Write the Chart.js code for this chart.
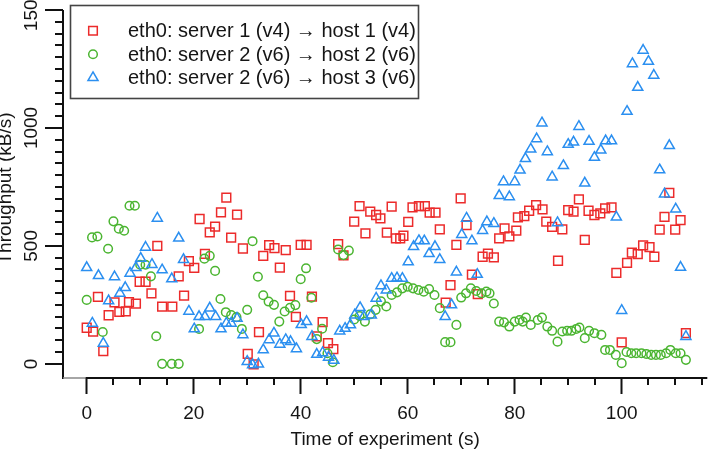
<!DOCTYPE html>
<html>
<head>
<meta charset="utf-8">
<script src="https://cdn.jsdelivr.net/npm/chart.js@4.4.1/dist/chart.umd.min.js"></script>
<style>
html,body{margin:0;padding:0;background:#fff;}
#wrap{width:715px;height:455px;position:relative;}
</style>
</head>
<body>
<div id="wrap"><canvas id="c" width="715" height="455"></canvas></div>
<script>
// ---------- data ----------
const seriesLabels = [
  'eth0: server 1 (v4) \u2192 host 1 (v4)',
  'eth0: server 2 (v6) \u2192 host 2 (v6)',
  'eth0: server 2 (v6) \u2192 host 3 (v6)'
];
const xTickValues = [0, 20, 40, 60, 80, 100];
const yTickValues = [0, 500, 1000, 1500];
const xTitle = 'Time of experiment (s)';
const yTitle = 'Throughput (kB/s)';

const redX = [0,1.2,2.1,3.1,4.1,5.2,6.1,7.3,7.9,9.2,
  9.9,11,12.1,13.2,14.1,16,17.2,18.2,19.1,20.1,
  21.1,22.1,23,24,25.1,26.1,27,28.1,29.2,30.1,
  31.2,32.2,33,34.1,35.1,36.1,37.2,38,39.1,40,
  41.1,42.1,43,44.1,45.1,46.1,47,48,50,51,
  52.1,53,54.1,54.9,56.1,57,57.8,58.6,59.2,60.1,
  60.9,62.1,63.2,64.1,65.2,66,67.1,68,69.1,69.9,
  71,72,73.1,74,75,76.1,77.1,78.1,79,80.3,
  80.6,81.8,82.7,84,85.2,85.9,87,88.1,88.9,90,
  91,92,93.1,93.8,94.9,96,96.9,98.1,99,100,
  101,101.9,103,104,105.2,106.1,107.1,108,108.9,110,
  111,112];
const redY = [153,137,284,54,206,261,220,222,262,255,
  348,348,299,500,243,243,371,289,435,407,
  614,466,557,582,642,705,535,633,489,42,
  -2,134,458,503,491,408,482,288,199,504,
  504,285,116,177,88,62,508,460,603,669,
  553,645,631,617,556,666,532,532,543,602,
  663,669,669,641,641,570,260,334,504,701,
  588,378,296,454,467,451,532,574,540,565,
  621,626,649,673,655,603,581,437,570,652,
  645,697,526,649,631,638,659,663,386,91,
  428,471,465,502,495,454,569,623,725,569,
  609,130];

const greenX = [0,1,2,3,4,5,6,7,8,9,
  10,11,12,13,14.1,15.9,17.2,21,22,23,
  24,25,26,27,28,29,30,31,32,33,
  34,35,36,37,38,39,40,41,42,43,
  44,45,46,47,48,49,50,51,52,53,
  54,55,56,57,58,59,60,61,62,63,
  64,65,66,67,68,69.1,70,70.9,71.8,72.8,
  73.8,74.7,75.3,76.1,77.1,78,79,80,80.9,81.5,
  82.1,83,84.3,85.1,86.1,87,88,88.9,89.8,90.6,
  91.5,92.1,93.1,93.9,94.9,96.2,96.9,97.8,98.9,100,
  100.9,101.8,102.7,103.7,104.6,105.5,106.4,107.3,108.3,109.1,
  110.1,111,112];
const greenY = [271,536,540,135,488,604,573,564,670,670,
  420,420,371,117,0,0,0,148,446,458,
  394,275,219,207,198,148,229,520,369,291,
  264,250,179,222,238,249,359,405,280,105,
  149,45,7,485,461,480,188,203,179,210,
  229,265,243,292,303,320,327,320,313,306,
  317,292,236,92,92,165,281,299,320,309,
  299,306,299,256,179,176,158,179,186,179,
  196,165,186,196,158,140,94,137,140,140,
  148,154,109,140,130,123,59,59,38,3,
  50,45,45,45,42,38,38,38,45,59,
  45,45,17];

const blueX = [0,1.05,2.2,3.1,4.1,5.2,6.2,7.2,8.1,9.2,
  10.1,11,12.2,13.2,14.1,15.9,17.2,18.1,19.1,20.1,
  21,22.1,23,24.1,25.1,26.1,27,28.1,29.2,30,
  31,32.1,33,34.1,35,36.1,37.2,38.1,39.2,40.1,
  41.1,42.1,43,44.1,45.2,46.2,47.3,48.3,49.3,50.1,
  51.1,51.8,53.2,54.1,55,56,57,58,59,60.1,
  61.1,62.1,63.1,64,65.1,66,67,68.2,69.1,70.1,
  71,72,73,74,74.8,76.1,77.1,77.9,79,80,
  81,82,83,84.1,85.1,86.1,87,88,89.1,90,
  91,92,93.1,93.9,94.9,96.1,97,98.1,99,100,
  101,102,103,104,105,106,107.1,108,108.9,110.1,
  111,112];
const blueY = [408,172,374,87,267,369,299,323,384,408,
  447,494,421,617,398,360,533,442,223,148,
  200,200,236,200,148,172,172,193,123,10,
  -4,-1,59,102,130,83,102,94,64,166,
  179,116,40,47,28,15,139,150,165,207,
  238,200,207,278,331,313,362,364,362,432,
  497,522,521,467,497,442,200,250,389,548,
  617,521,379,565,602,595,713,772,708,772,
  821,870,910,954,1021,899,792,598,840,930,
  940,1006,766,943,875,906,945,945,622,226,
  1070,1272,1172,1329,1282,1223,822,720,925,656,
  409,116];

// ---------- styles ----------
const FONT = '"Liberation Sans", Arial, Helvetica, sans-serif';
const TEXT = '#151515';
const RED = '#ec2b2b', GREEN = '#4bb531', BLUE = '#2b8ff0';

function pts(xs, ys) { return xs.map((x, i) => ({ x: x, y: ys[i] })); }

const styles = [
  { color: RED, pointStyle: 'rect', radius: 6.2 },
  { color: GREEN, pointStyle: 'circle', radius: 4.3 },
  { color: BLUE, pointStyle: 'triangle', radius: 5.8 }
];

const igorPlugin = {
  id: 'igor',
  afterDraw(chart) {
    const ctx = chart.ctx;
    const xs = chart.scales.x, ys = chart.scales.y;
    const ca = chart.chartArea;
    ctx.save();
    ctx.strokeStyle = '#111';
    ctx.fillStyle = TEXT;
    // left axis line
    ctx.lineWidth = 2;
    ctx.beginPath();
    ctx.moveTo(ca.left, ca.top);
    ctx.lineTo(ca.left, ca.bottom + 1);
    ctx.stroke();
    // bottom axis line (thin grey part before 0, then black)
    const x0 = xs.getPixelForValue(0);
    ctx.strokeStyle = '#888';
    ctx.lineWidth = 1.5;
    ctx.beginPath();
    ctx.moveTo(ca.left, ca.bottom);
    ctx.lineTo(x0, ca.bottom);
    ctx.stroke();
    ctx.strokeStyle = '#111';
    ctx.lineWidth = 2;
    ctx.beginPath();
    ctx.moveTo(x0 - 1, ca.bottom);
    ctx.lineTo(ca.right, ca.bottom);
    ctx.stroke();
    // y ticks
    for (let v = 0; v <= 1500; v += 50) {
      const py = Math.round(ys.getPixelForValue(v));
      const len = (v % 500 === 0) ? 18 : 8;
      ctx.beginPath();
      ctx.moveTo(ca.left, py);
      ctx.lineTo(ca.left - len, py);
      ctx.stroke();
    }
    // x minor ticks
    for (let v = 5; v <= 115; v += 5) {
      if (v % 20 === 0) continue;
      const px = Math.round(xs.getPixelForValue(v));
      if (px > ca.right) continue;
      ctx.beginPath();
      ctx.moveTo(px, ca.bottom);
      ctx.lineTo(px, ca.bottom + 7);
      ctx.stroke();
    }
    // y tick labels (rotated)
    ctx.font = '19px ' + FONT;
    ctx.textAlign = 'center';
    ctx.textBaseline = 'alphabetic';
    yTickValues.forEach(v => {
      const py = ys.getPixelForValue(v);
      ctx.save();
      ctx.translate(37, py);
      ctx.rotate(-Math.PI / 2);
      ctx.fillText(String(v), 0, 0);
      ctx.restore();
    });
    // y title
    ctx.save();
    ctx.translate(11, 188.5);
    ctx.rotate(-Math.PI / 2);
    ctx.font = '19px ' + FONT;
    ctx.fillText(yTitle, 0, 0);
    ctx.restore();
    // legend box
    ctx.strokeStyle = '#444';
    ctx.lineWidth = 1.6;
    ctx.fillStyle = '#fff';
    ctx.fillRect(70, 5, 349, 94);
    ctx.strokeRect(70.5, 5.5, 348, 93);
    const rows = [30.7, 54.3, 77.7];
    chart.data.datasets.forEach((ds, i) => {
      const y = rows[i];
      const st = styles[i];
      ctx.strokeStyle = st.color;
      ctx.lineWidth = 1.5;
      ctx.beginPath();
      if (st.pointStyle === 'rect') {
        ctx.rect(93 - 4.3, y - 4.3, 8.6, 8.6);
      } else if (st.pointStyle === 'circle') {
        ctx.arc(93, y, 4.3, 0, Math.PI * 2);
      } else {
        const r = st.radius;
        ctx.moveTo(93, y - r);
        ctx.lineTo(93 + r * Math.sin(2 * Math.PI / 3), y - r * Math.cos(2 * Math.PI / 3));
        ctx.lineTo(93 + r * Math.sin(4 * Math.PI / 3), y - r * Math.cos(4 * Math.PI / 3));
        ctx.closePath();
      }
      ctx.stroke();
      ctx.fillStyle = TEXT;
      ctx.font = '20px ' + FONT;
      ctx.textAlign = 'left';
      ctx.textBaseline = 'middle';
      ctx.fillText(ds.label, 128, y + 1);
    });
    ctx.restore();
  }
};

const datasets = [
  { label: seriesLabels[0], data: pts(redX, redY), order: 3 },
  { label: seriesLabels[1], data: pts(greenX, greenY), order: 2 },
  { label: seriesLabels[2], data: pts(blueX, blueY), order: 1 }
].map((d, i) => Object.assign(d, {
  showLine: false,
  pointStyle: styles[i].pointStyle,
  pointRadius: styles[i].radius,
  pointHoverRadius: styles[i].radius,
  pointBorderWidth: 1.5,
  borderColor: styles[i].color,
  pointBorderColor: styles[i].color,
  backgroundColor: 'rgba(0,0,0,0)',
  pointBackgroundColor: 'rgba(0,0,0,0)'
}));

new Chart(document.getElementById('c'), {
  type: 'scatter',
  data: { datasets: datasets },
  plugins: [igorPlugin],
  options: {
    responsive: false,
    maintainAspectRatio: false,
    animation: false,
    devicePixelRatio: 1,
    layout: { padding: { top: 10, right: 0, bottom: 0, left: 0 } },
    plugins: { legend: { display: false }, tooltip: { enabled: false } },
    scales: {
      x: {
        type: 'linear', position: 'bottom', min: -4.43, max: 116,
        afterBuildTicks: s => { s.ticks = xTickValues.map(v => ({ value: v })); },
        afterFit: s => { s.height = 77; },
        grid: { drawOnChartArea: false, drawTicks: true, tickLength: 16, tickWidth: 2, tickColor: '#111' },
        border: { display: false },
        ticks: { font: { family: FONT, size: 19 }, color: TEXT, padding: 8, maxRotation: 0, minRotation: 0, autoSkip: false },
        title: { display: true, text: xTitle, font: { family: FONT, size: 19 }, color: TEXT, padding: { top: 0, bottom: 4 } }
      },
      y: {
        type: 'linear', position: 'left', min: -60, max: 1500,
        afterFit: s => { s.width = 63; },
        grid: { display: false },
        border: { display: false },
        ticks: { display: false }
      }
    }
  }
});
</script>
</body>
</html>
